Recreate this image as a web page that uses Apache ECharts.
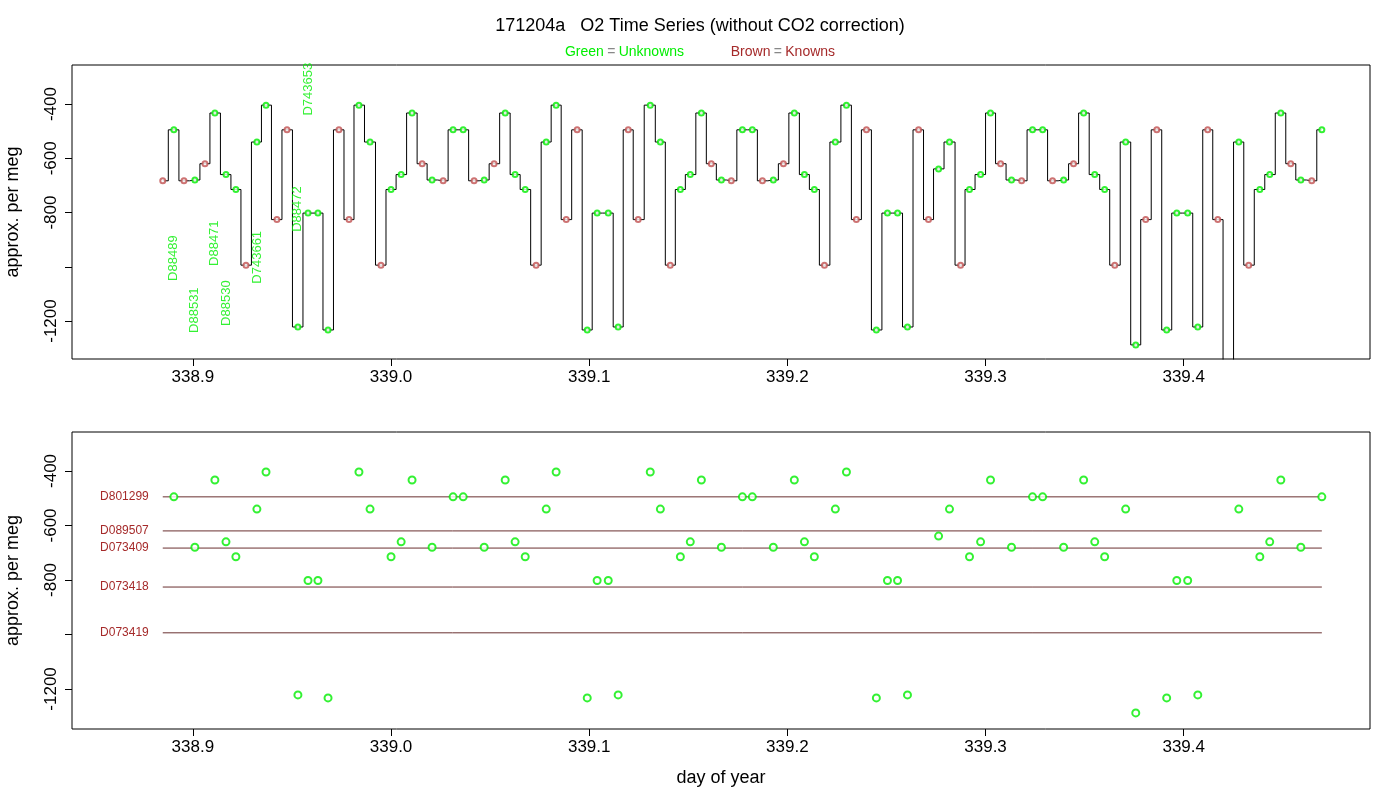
<!DOCTYPE html>
<html>
<head>
<meta charset="utf-8">
<script src="https://cdn.jsdelivr.net/npm/echarts@6/dist/echarts.min.js"></script>
<style>html,body{margin:0;padding:0;background:#fff}#box{width:1400px;height:800px}</style>
</head>
<body>
<div id="box"></div>
<script>
var myChart = echarts.init(document.getElementById("box"));

// sample times (day of year), in run order
var sampleTimes = [
  338.8848, 338.8904, 338.8955, 338.9010, 338.9061, 338.9111, 338.9167, 338.9217, 338.9268, 338.9323,
  338.9369, 338.9424, 338.9475, 338.9530, 338.9581, 338.9631, 338.9682, 338.9737, 338.9788, 338.9838,
  338.9894, 338.9949, 339.0000, 339.0051, 339.0106, 339.0157, 339.0207, 339.0263, 339.0313, 339.0364,
  339.0419, 339.0470, 339.0520, 339.0576, 339.0626, 339.0677, 339.0732, 339.0783, 339.0833, 339.0884,
  339.0939, 339.0990, 339.1040, 339.1096, 339.1146, 339.1197, 339.1247, 339.1308, 339.1359, 339.1409,
  339.1460, 339.1510, 339.1566, 339.1616, 339.1667, 339.1717, 339.1773, 339.1823, 339.1874, 339.1929,
  339.1980, 339.2035, 339.2086, 339.2136, 339.2187, 339.2242, 339.2298, 339.2348, 339.2399, 339.2449,
  339.2505, 339.2556, 339.2606, 339.2662, 339.2712, 339.2763, 339.2818, 339.2874, 339.2919, 339.2975,
  339.3025, 339.3076, 339.3131, 339.3182, 339.3237, 339.3288, 339.3338, 339.3394, 339.3444, 339.3495,
  339.3551, 339.3601, 339.3652, 339.3707, 339.3758, 339.3808, 339.3864, 339.3914, 339.3965, 339.4020,
  339.4071, 339.4121, 339.4172, 339.4225, 339.4278, 339.4328, 339.4384, 339.4434, 339.4490, 339.4540,
  339.4591, 339.4646, 339.4697
];
// plateau value for each sample (per meg)
var sampleValues = [
  -683, -495, -683, -680, -620, -433, -660, -715, -994, -540,
  -404, -826, -495, -1222, -802, -802, -1233, -495, -826, -404,
  -540, -994, -715, -660, -433, -620, -680, -683, -495, -495,
  -683, -680, -620, -433, -660, -715, -994, -540, -404, -826,
  -495, -1233, -802, -802, -1222, -495, -826, -404, -540, -994,
  -715, -660, -433, -620, -680, -683, -495, -495, -683, -680,
  -620, -433, -660, -715, -994, -540, -404, -826, -495, -1233,
  -802, -802, -1222, -495, -826, -639, -540, -994, -715, -660,
  -433, -620, -680, -683, -495, -495, -683, -680, -620, -433,
  -660, -715, -994, -540, -1288, -826, -495, -1233, -802, -802,
  -1222, -495, -826, -1450, -540, -994, -715, -660, -433, -620,
  -680, -683, -495
];
// U = unknown (green), K = known (brown), N = no marker
var sampleKinds = [
  'K','U','K','U','K','U','U','U','K','U',
  'U','K','K','U','U','U','U','K','K','U',
  'U','K','U','U','U','K','U','K','U','U',
  'K','U','K','U','U','U','K','U','U','K',
  'K','U','U','U','U','K','K','U','U','K',
  'U','U','U','K','U','K','U','U','K','U',
  'K','U','U','U','K','U','U','K','K','U',
  'U','U','U','K','K','U','U','K','U','U',
  'U','K','U','K','U','U','K','U','K','U',
  'U','U','K','U','U','K','K','U','U','U',
  'U','K','K','N','U','K','U','U','U','K',
  'U','K','U'
];

// known standards (bottom panel lines)
var knownNames = ['D801299', 'D089507', 'D073409', 'D073418', 'D073419'];
var knownValues = [-495, -620, -683, -826, -994];
var knownRange = [338.8848, 339.4697];

// sample labels in top panel
var tagNames = ['D88489', 'D88531', 'D88471', 'D88530', 'D743661', 'D88472', 'D743653'];
var tagPos = [
  [338.8904, -968], [338.9010, -1160], [338.9111, -913], [338.9167, -1134],
  [338.9328, -965], [338.9530, -787], [338.9584, -345]
];

var xTicks = [338.9, 339.0, 339.1, 339.2, 339.3, 339.4];
var yTicks = [-400, -600, -800, -1000, -1200];

var FONT = 'Liberation Sans';
var GREEN = '#00ee00', BROWN = '#a52a2a';

var trace = [], greenPts = [], brownPts = [];
for (var i = 0; i < sampleTimes.length; i++) {
  trace.push([sampleTimes[i], sampleValues[i]]);
  if (sampleKinds[i] === 'U') greenPts.push([sampleTimes[i], sampleValues[i]]);
  if (sampleKinds[i] === 'K') brownPts.push([sampleTimes[i], sampleValues[i]]);
}

function xAxisOf(idx, name) {
  return {
    type: 'value', gridIndex: idx, min: 338.839, max: 339.494,
    name: name, nameLocation: 'middle', nameGap: 40,
    nameTextStyle: {fontSize: 18, color: '#000', fontFamily: FONT},
    axisLine: {show: false},
    axisTick: {show: true, length: 7, lineStyle: {color: '#000'}, customValues: xTicks},
    axisLabel: {fontSize: 17, color: '#000', margin: 10, fontFamily: FONT,
      customValues: xTicks, formatter: function (v) { return v.toFixed(1); }},
    splitLine: {show: false}
  };
}
function yAxisOf(idx, min, max) {
  return {
    type: 'value', gridIndex: idx, min: min, max: max,
    name: 'approx. per meg', nameLocation: 'middle', nameGap: 50,
    nameTextStyle: {fontSize: 18, color: '#000', fontFamily: FONT},
    axisLine: {show: false},
    axisTick: {show: true, length: 7, lineStyle: {color: '#000'}, customValues: yTicks},
    axisLabel: {fontSize: 17, color: '#000', rotate: 90, margin: 12, fontFamily: FONT,
      customValues: yTicks, formatter: function (v) { return v === -1000 ? '' : String(v); }},
    splitLine: {show: false}
  };
}

var series = [
  {type: 'line', xAxisIndex: 0, yAxisIndex: 0, data: trace, step: 'middle', showSymbol: false,
   lineStyle: {color: '#000', width: 1}, silent: true, z: 2},
  {type: 'scatter', xAxisIndex: 0, yAxisIndex: 0, data: greenPts, symbol: 'emptyCircle', symbolSize: 5,
   itemStyle: {color: GREEN, borderColor: GREEN, borderWidth: 1}, z: 3},
  {type: 'scatter', xAxisIndex: 0, yAxisIndex: 0, data: brownPts, symbol: 'emptyCircle', symbolSize: 5,
   itemStyle: {color: '#c05050', borderColor: '#c05050', borderWidth: 1}, z: 3},
  {type: 'scatter', xAxisIndex: 0, yAxisIndex: 0, symbolSize: 0,
   data: tagPos.map(function (p, k) { return {value: p, name: tagNames[k]}; }),
   label: {show: true, formatter: '{b}', rotate: 90, position: 'inside', color: GREEN, fontSize: 13,
     fontFamily: FONT}, z: 4},
  {type: 'scatter', xAxisIndex: 1, yAxisIndex: 1, data: greenPts, symbol: 'emptyCircle', symbolSize: 7,
   itemStyle: {color: GREEN, borderColor: GREEN, borderWidth: 1}, z: 3}
];
knownValues.forEach(function (v, k) {
  series.push({
    type: 'line', xAxisIndex: 1, yAxisIndex: 1, showSymbol: false, silent: true,
    data: [[knownRange[0], v], [knownRange[1], v]],
    lineStyle: {color: '#6a3030', width: 1}, z: 2,
    markPoint: {symbol: 'circle', symbolSize: 0,
      data: [{coord: [knownRange[0], v], value: knownNames[k]}],
      label: {show: true, formatter: knownNames[k], position: 'left', distance: 14, color: BROWN, fontSize: 12,
        fontFamily: FONT}}
  });
});

var option = {
  backgroundColor: '#fff',
  animation: false,
  title: {
    text: '171204a   O2 Time Series (without CO2 correction)',
    left: 'center', top: 12,
    textStyle: {fontSize: 18, fontWeight: 'normal', color: '#000', fontFamily: FONT},
    subtext: '{g|Green} {e|=} {g|Unknowns}              {b|Brown} {e|=} {b|Knowns}',
    itemGap: 10,
    subtextStyle: {rich: {
      g: {color: GREEN, fontSize: 14, fontFamily: FONT},
      b: {color: BROWN, fontSize: 14, fontFamily: FONT},
      e: {color: '#888', fontSize: 14, fontFamily: FONT}
    }}
  },
  grid: [
    {left: 72, right: 30, top: 65, height: 294, show: true, borderColor: '#000', borderWidth: 1,
     outerBoundsMode: 'none', containLabel: false},
    {left: 72, right: 30, top: 432, height: 297, show: true, borderColor: '#000', borderWidth: 1,
     outerBoundsMode: 'none', containLabel: false}
  ],
  xAxis: [xAxisOf(0, ''), xAxisOf(1, 'day of year')],
  yAxis: [yAxisOf(0, -1340, -256), yAxisOf(1, -1347, -257)],
  series: series
};
myChart.setOption(option);
</script>
</body>
</html>
